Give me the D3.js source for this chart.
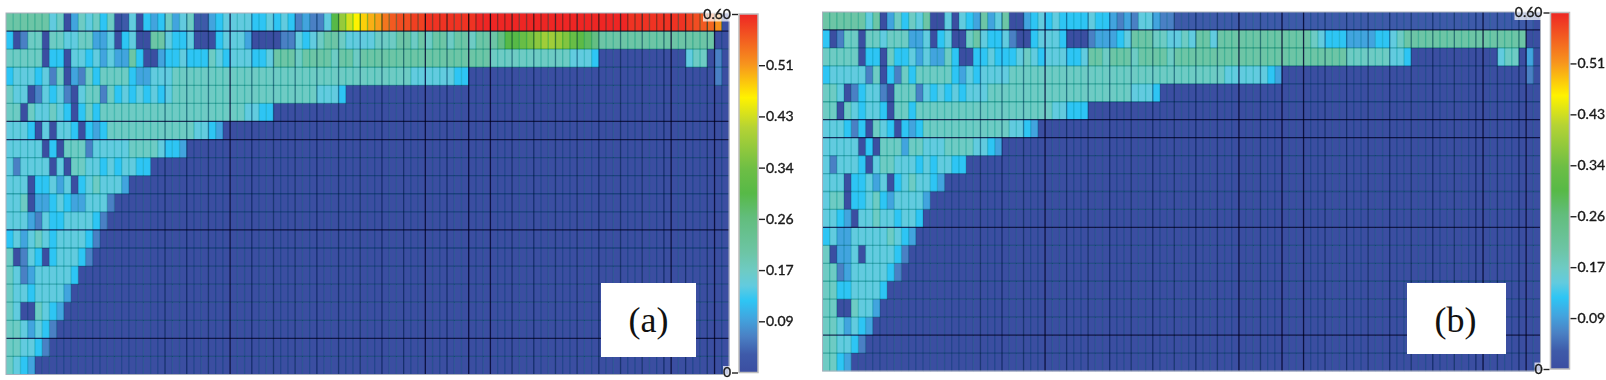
<!DOCTYPE html>
<html><head><meta charset="utf-8">
<style>html,body{margin:0;padding:0;background:#fff;overflow:hidden}svg{display:block}.mul{mix-blend-mode:multiply}</style>
<script src="https://cdn.jsdelivr.net/npm/d3@7"></script></head><body><svg id="c" width="1606" height="380"></svg>
<script>
const D=0,B=.03,M=.06,L=.09,C=.12,T=.145,S=.17,G=.2;
const rowsA=[
[G,G,G,G,G,G,T,S,D,L,S,T,S,C,S,D,B,T,D,C,L,C,S,L,T,S,B,B,L,C,T,T,T,T,C,C,T,C,T,C,M,L,M,M,T,.30,.38,.43,.46,.48,.50,.51,.54,.56,.57,.57,.58,.58,.59,.59,.59,.59,.59,.59,.59,.60,.60,.60,.60,.60,.60,.60,.60,.60,.60,.60,.60,.60,.60,.60,.60,.60,.60,.60,.60,.60,.59,.59,.59,.59,.59,.59,.59,.59,.58,.57,.56,.55,.52,D],
[C,D,M,S,S,D,S,S,T,T,S,S,L,L,T,D,C,T,D,D,G,G,T,C,C,T,D,D,D,C,T,T,T,L,D,D,D,D,M,M,T,C,T,S,G,G,S,T,T,T,T,S,S,S,G,G,S,G,S,G,G,S,G,G,S,G,G,G,.25,.30,.30,.33,.35,.37,.39,.39,.38,.36,.33,.31,.28,.25,G,G,G,G,G,G,G,G,G,G,G,G,G,G,G,G,D,D],
[S,S,S,S,S,D,C,C,D,T,T,C,T,L,T,L,L,G,C,D,D,L,C,C,T,C,C,C,S,T,C,T,T,T,C,C,T,G,G,G,S,G,G,G,G,S,G,G,S,G,G,G,G,G,G,G,G,G,G,G,G,G,G,G,G,G,G,S,S,S,S,S,S,S,S,S,S,S,T,T,T,C,D,D,D,D,D,D,D,D,D,D,D,D,T,S,S,D,M,D],
[C,T,T,T,C,T,M,S,D,L,M,S,C,S,S,S,S,C,L,L,T,T,T,S,S,S,S,S,S,S,S,S,S,S,S,S,S,S,S,S,S,S,S,S,S,S,S,S,S,S,S,S,S,S,S,S,T,T,T,T,T,T,C,C,D,D,D,D,D,D,D,D,D,D,D,D,D,D,D,D,D,D,D,D,D,D,D,D,D,D,D,D,D,D,D,D,D,D,M,D],
[S,T,T,D,M,T,C,T,M,D,T,S,S,M,S,C,T,C,T,C,T,C,T,S,S,S,S,S,S,S,S,S,S,S,S,S,S,S,S,S,S,S,S,T,T,T,C],
[S,S,D,S,T,T,S,T,C,D,C,S,C,S,S,S,S,S,S,S,S,S,S,S,S,S,S,S,S,S,S,S,S,T,T,C,C],
[T,T,T,C,D,T,D,T,T,C,D,C,L,C,S,S,S,S,S,S,S,S,S,S,S,S,T,T,C,L],
[T,T,T,T,T,D,C,D,S,S,S,M,T,T,T,T,T,S,S,S,S,T,C,C,L],
[T,M,T,T,T,T,D,T,D,S,S,T,T,C,T,C,T,T,C,C],
[T,T,T,D,C,C,T,L,T,D,C,T,S,T,T,T,L],
[T,T,S,D,L,L,C,T,C,L,L,T,T,T,M],
[T,T,T,L,M,T,C,C,T,T,T,T,C,M],
[C,T,L,T,S,T,C,T,T,T,T,C,M],
[S,D,M,T,C,D,C,T,T,T,C,M],
[S,T,M,L,T,T,T,T,T,C],
[S,T,T,C,T,T,T,T,L],
[S,T,D,D,S,T,C,L],
[S,S,T,L,T,C,M],
[S,S,T,T,C,M],
[S,T,C,L]];
const rowsB=[
[G,G,G,G,G,G,T,G,D,L,S,C,S,T,G,D,D,T,D,T,C,L,G,L,T,G,D,D,L,C,T,C,T,C,C,C,C,T,C,C,L,M,L,M,T,T,L,M,M,B,B,B,B,B,B,B,B,B,B,B,B,B,B,B,B,B,B,B,B,B,B,B,B,B,B,B,B,B,B,B,B,B,B,B,B,B,B,B,B,B,B,B,B,B,B,B,B,B,B,D],
[C,D,M,S,S,D,S,S,T,S,S,S,L,L,T,D,C,T,D,D,S,G,T,C,C,T,M,D,D,C,T,T,T,C,D,D,D,M,L,L,L,C,T,G,G,G,S,S,T,T,S,T,G,G,T,G,G,G,G,G,G,G,G,G,G,G,G,G,S,T,C,C,C,L,L,L,L,C,C,T,S,G,G,G,G,G,G,G,G,G,G,G,G,G,G,G,G,G,D,D],
[S,S,S,S,S,D,C,C,D,S,C,C,T,L,T,L,L,S,C,D,D,C,C,T,C,C,C,T,S,T,C,T,T,T,C,C,T,G,G,S,G,G,G,S,G,G,G,G,S,G,G,G,G,G,G,G,G,G,G,G,G,G,G,G,G,G,G,G,G,G,G,G,G,S,S,S,S,S,S,T,T,C,D,D,D,D,D,D,D,D,D,D,D,D,T,S,S,D,L,D],
[C,T,T,T,T,T,M,S,D,C,M,S,C,S,S,S,S,S,C,L,T,C,T,T,T,T,S,S,S,S,S,S,S,S,S,S,S,S,S,S,S,S,S,S,S,S,S,S,S,S,S,S,S,S,S,S,T,T,T,T,T,T,C,L,D,D,D,D,D,D,D,D,D,D,D,D,D,D,D,D,D,D,D,D,D,D,D,D,D,D,D,D,D,D,D,D,D,D,M,D],
[S,S,T,D,M,C,T,T,M,D,S,S,S,M,T,C,T,C,T,C,T,T,T,S,S,S,S,S,S,S,S,S,S,S,S,S,S,S,S,S,S,S,S,T,T,T,C],
[S,S,D,S,T,C,T,T,C,D,S,S,C,S,S,S,S,S,S,S,S,S,S,S,S,S,S,S,S,S,S,S,T,T,C,C,C],
[T,T,T,C,M,C,D,S,T,C,D,C,L,C,S,S,S,S,S,S,S,S,S,S,S,S,T,T,C,L],
[T,T,T,T,T,D,C,D,S,S,S,L,S,S,T,T,T,S,S,S,S,T,T,C,L],
[T,M,T,T,T,C,D,T,S,S,T,T,T,C,T,C,T,T,C,C],
[T,T,T,D,C,C,T,L,T,D,C,T,S,T,T,C,L],
[T,S,S,D,C,C,T,S,C,L,T,T,T,T,L],
[T,T,C,L,D,T,T,S,T,T,C,T,T,C],
[C,T,L,L,T,T,T,T,T,S,T,C,L],
[S,D,L,L,T,D,T,T,T,T,C,M],
[S,S,M,L,T,T,T,T,T,C,M],
[S,S,C,C,T,T,T,T,C],
[S,S,D,D,S,T,T,L],
[S,S,T,L,T,C,L],
[S,S,T,T,C,M],
[S,S,C,L]];
const cbStops=[0,.03,.06,.09,.12,.145,.17,.2,.26,.30,.34,.41,.46,.516,.6];
const cbColors=["#3b4ea1","#3e5aa9","#4a80c4","#42a4de","#2ec5f4","#62cbdf","#6ecbc4","#6dc5a6","#62bd7c","#57b947","#6dbe45","#b5d334","#fff200","#f7941d","#ee2624"];
const tickVals=[.0857,.1714,.2571,.3429,.4286,.5143];
const tickText=["0.09","0.17","0.26","0.34","0.43","0.51"];
const endVals=[0,.6];
const endText=["0","0.60"];
const strongCols=[31,58,64,67,92,98];
const strongRows=[1,6,7,12,18];
const colIdx=d3.range(100),rowIdx=d3.range(20);
const color=d3.scaleLinear().domain(cbStops).range(cbColors).clamp(true);
const svg=d3.select("#c");
const defs=svg.append("defs");
const grad=defs.append("linearGradient").attr("id","cb").attr("x1",0).attr("x2",0).attr("y1",1).attr("y2",0);
cbStops.forEach((v,i)=>grad.append("stop").attr("offset",v/.6).attr("stop-color",cbColors[i]));

const panels=[
 {rows:rowsA,x0:6,x1:729,y0:13,y1:374.5,bx:739,bw:19,by0:372.5,by1:14,label:"(a)",box:[601,283,95,74],lx:648.5,ly:332},
 {rows:rowsB,x0:822.5,x1:1540.5,y0:12,y1:371,bx:1550.5,bw:19,by0:369,by1:12.5,label:"(b)",box:[1407,283,99,71],lx:1455.5,ly:332}
];
panels.forEach(p=>{
 const g=svg.append("g");
 const x=d3.scaleBand().domain(colIdx).range([p.x0,p.x1]);
 const y=d3.scaleBand().domain(rowIdx).range([p.y0,p.y1]);
 const cells=[];
 p.rows.forEach((r,i)=>colIdx.forEach(j=>cells.push({i,j,v:j<r.length?r[j]:0})));
 g.selectAll("rect.cell").data(cells).join("rect").attr("class","cell")
  .attr("x",d=>x(d.j)).attr("y",d=>y(d.i)).attr("width",x.bandwidth()+.3).attr("height",y.bandwidth()+.3)
  .attr("fill",d=>color(d.v));
 // column grid, darkened through multiply so it takes the hue of the cell beneath
 g.selectAll("line.v").data(colIdx.slice(1)).join("line").attr("class","v mul")
  .attr("x1",d=>x(d)).attr("x2",d=>x(d)).attr("y1",p.y0).attr("y2",p.y1)
  .attr("stroke",d=>strongCols.includes(d)?"#101850":(d%3==1&&d>=22?"#2a7a96":"#48d0c8"))
  .attr("stroke-width",1.3)
  .attr("stroke-opacity",d=>strongCols.includes(d)?.9:(d%3==1&&d>=22?.8:.6));
 // row grid
 g.selectAll("line.h").data(rowIdx.slice(1)).join("line").attr("class","h mul")
  .attr("y1",d=>y(d)).attr("y2",d=>y(d)).attr("x1",p.x0).attr("x2",p.x1)
  .attr("stroke",d=>strongRows.includes(d)?"#101850":"#3fb8b4")
  .attr("stroke-width",1.3).attr("stroke-opacity",d=>strongRows.includes(d)?.85:.7);
 g.append("rect").attr("x",p.x0).attr("y",p.y0).attr("width",p.x1-p.x0).attr("height",p.y1-p.y0)
  .attr("fill","none").attr("stroke","#aab0bc").attr("stroke-width",1);
 // label
 g.append("rect").attr("x",p.box[0]).attr("y",p.box[1]).attr("width",p.box[2]).attr("height",p.box[3]).attr("fill","#fff");
 g.append("text").attr("x",p.lx).attr("y",p.ly).attr("text-anchor","middle")
  .attr("font-family","'Liberation Serif',serif").attr("font-size",36).attr("fill","#111").text(p.label);
 // colour bar
 const s=d3.scaleLinear().domain([0,.6]).range([p.by0,p.by1]);
 g.append("rect").attr("x",p.bx).attr("y",p.by1).attr("width",p.bw).attr("height",p.by0-p.by1)
  .attr("fill","url(#cb)").attr("stroke","#bdbdbd").attr("stroke-width",1.5);
 const right=g.append("g").attr("transform",`translate(${p.bx+p.bw+1},0)`)
  .call(d3.axisRight(s).tickValues(tickVals).tickSize(6).tickPadding(1).tickFormat((d,i)=>tickText[i]));
 const left=g.append("g").attr("transform",`translate(${p.bx-1},0)`)
  .call(d3.axisLeft(s).tickValues(endVals).tickSize(6).tickPadding(1).tickFormat((d,i)=>endText[i]));
 [right,left].forEach(a=>{
  a.select(".domain").remove();
  a.selectAll("line").attr("stroke","#222").attr("stroke-width",1.4);
  a.selectAll("text").attr("font-family","Lato,sans-serif").attr("font-size",14).attr("fill","#1a1a1a")
   .attr("stroke","#1a1a1a").attr("stroke-width",.35);
 });
 left.selectAll(".tick").insert("rect","text").attr("x",(d,i)=>i?-35:-15).attr("y",-7).attr("width",(d,i)=>i?28:8).attr("height",14)
  .attr("fill","#fff").attr("fill-opacity",.72);
});
</script></body></html>
